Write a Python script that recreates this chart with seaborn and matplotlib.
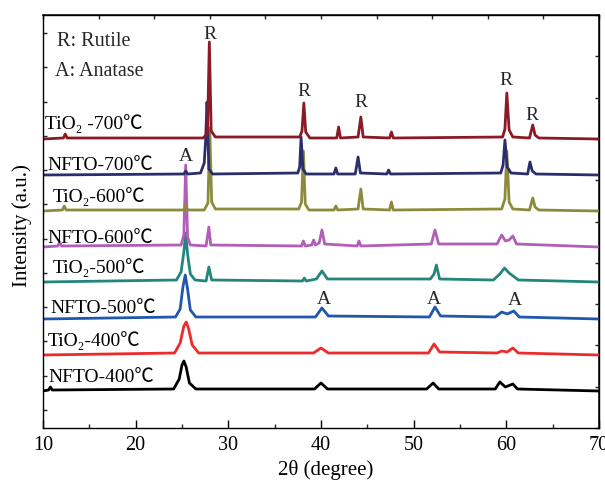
import numpy as np
import pandas as pd
import matplotlib
matplotlib.use("Agg")
import matplotlib.pyplot as plt
import seaborn as sns

# ---------------- data ----------------
samples = ["TiO2-700", "NFTO-700", "TiO2-600", "NFTO-600",
           "TiO2-500", "NFTO-500", "TiO2-400", "NFTO-400"]
labels = ["TiO\u2082 -700\u2103", "NFTO-700\u2103", "TiO\u2082-600\u2103", "NFTO-600\u2103",
          "TiO\u2082-500\u2103", "NFTO-500\u2103", "TiO\u2082-400\u2103", "NFTO-400\u2103"]

tio2_700_x = [10, 12.2, 12.4, 12.6, 27.3, 27.75, 27.95, 28.15, 28.6, 37.7, 37.95, 38.15, 38.35, 38.8,
              41.7, 41.9, 42.1, 44.0, 44.3, 44.55, 47.4, 47.6, 47.8, 59.6, 59.85, 60.05, 60.3, 60.7,
              62.5, 62.85, 63.1, 63.5, 70]
tio2_700_y = [0, 1, 5, 1, 1, 6, 97, 8, 2, 2, 8, 36, 7, 1,
              1, 12, 1, 2, 22, 2, 1, 7, 1, 2, 10, 46, 9, 2,
              1, 14, 4, 1, 0]

nfto_700_x = [10, 25.2, 25.4, 25.6, 27.0, 27.4, 27.55, 27.7, 27.9, 28.3, 37.5, 37.7, 37.85, 38.05, 38.4,
              41.4, 41.6, 41.8, 43.7, 44.0, 44.25, 47.1, 47.3, 47.5, 59.4, 59.65, 59.85, 60.1, 60.5,
              62.3, 62.55, 62.8, 63.2, 70]
nfto_700_y = [0, 1, 4, 1, 2, 12, 35, 73, 6, 1, 2, 8, 38, 6, 1,
              1, 7, 1, 1, 18, 2, 1, 5, 1, 2, 10, 35, 8, 2,
              1, 13, 4, 1, 0]

tio2_600_x = [10, 12.1, 12.3, 12.5, 25.2, 25.4, 25.6, 27.4, 27.8, 28.0, 28.2, 28.6, 37.6, 37.9, 38.1,
              38.3, 38.7, 41.4, 41.6, 41.8, 44.0, 44.3, 44.55, 47.4, 47.6, 47.8, 59.5, 59.85, 60.05,
              60.3, 60.7, 62.5, 62.85, 63.1, 63.5, 70]
tio2_600_y = [0, 1, 5, 1, 1, 6, 1, 1, 8, 83, 9, 2, 2, 9, 60,
              7, 1, 1, 5, 1, 2, 22, 2, 1, 9, 1, 2, 12, 60,
              9, 2, 1, 13, 4, 1, 0]

nfto_600_x = [10, 11.6, 11.8, 12.0, 24.9, 25.2, 25.4, 25.6, 25.9, 27.6, 27.9, 28.1, 37.9, 38.1, 38.3,
              39.0, 39.2, 39.4, 39.8, 40.1, 40.4, 43.9, 44.1, 44.3, 51.9, 52.3, 52.7, 59.0, 59.5,
              59.9, 60.3, 60.7, 61.1, 70]
nfto_600_y = [0, 1, 5, 1, 2, 12, 82, 10, 2, 1, 20, 2, 1, 6, 1,
              2, 7, 2, 4, 17, 3, 1, 6, 1, 3, 17, 3, 3, 12,
              6, 7, 11, 3, 0]

tio2_500_x = [10, 24.4, 24.9, 25.2, 25.4, 25.6, 25.9, 26.4, 27.6, 27.9, 28.2, 38.0, 38.2, 38.4, 39.5,
              40.1, 40.7, 51.8, 52.2, 52.45, 52.8, 58.6, 59.3, 59.8, 60.3, 61.3, 70]
tio2_500_y = [0, 2, 10, 30, 49, 28, 8, 2, 1, 15, 2, 1, 4, 1, 3,
              11, 3, 3, 8, 17, 3, 2, 8, 14, 9, 2, 0]

nfto_500_x = [10, 24.3, 24.8, 25.1, 25.35, 25.6, 25.9, 26.5, 39.4, 40.1, 40.8, 51.7, 52.3, 52.9,
              58.8, 59.5, 60.1, 60.8, 61.4, 70]
nfto_500_y = [0, 2, 10, 32, 44, 30, 9, 2, 2, 11, 3, 2, 12, 3,
              2, 7, 5, 8, 2, 0]

tio2_400_x = [10, 24.2, 24.8, 25.2, 25.45, 25.7, 26.1, 26.8, 39.2, 40.0, 40.8, 51.6, 52.2, 52.8,
              59.0, 59.5, 60.1, 60.7, 61.3, 70]
tio2_400_y = [0, 2, 12, 29, 33, 27, 10, 2, 2, 7, 2, 2, 11, 3,
              2, 4, 3, 7, 2, 0]

nfto_400_x = [10, 10.6, 10.8, 11.0, 24.1, 24.7, 25.0, 25.2, 25.45, 25.8, 26.5, 39.3, 40.0, 40.7,
              51.4, 52.1, 52.7, 58.8, 59.3, 59.9, 60.7, 61.2, 70]
nfto_400_y = [0, 1, 4, 1, 2, 12, 26, 30, 24, 8, 2, 2, 8, 2,
              2, 8, 2, 2, 9, 4, 7, 2, 0]

xs = [tio2_700_x, nfto_700_x, tio2_600_x, nfto_600_x, tio2_500_x, nfto_500_x, tio2_400_x, nfto_400_x]
ys = [tio2_700_y, nfto_700_y, tio2_600_y, nfto_600_y, tio2_500_y, nfto_500_y, tio2_400_y, nfto_400_y]

# peak markers
rutile_x = [28.0, 38.2, 44.3, 60.0, 62.8]
anatase_x = [25.4, 40.3, 52.2, 60.9]

# ---------------- layout / style ----------------
offsets = [289, 253, 217, 181, 146, 109, 73, 37]
colors = ["#8B1A26", "#2C2D6C", "#8C8B3C", "#B25DB8", "#24857B", "#2157AE", "#EE2B2B", "#000000"]
label_pos = [(45, 129), (47, 170), (53, 202), (47, 243), (53, 273), (50, 313), (48, 346), (48, 382)]
rutile_pos = [39, 96, 107, 85, 120]
anatase_pos = [161, 304, 304, 305]

sns.set_theme(style="ticks")
plt.rcParams["font.family"] = ["Liberation Serif", "Noto Sans CJK SC", "DejaVu Serif", "DejaVu Sans"]

fig = plt.figure(figsize=(6.05, 4.80), dpi=100)
ax = fig.add_axes([43 / 605, 1 - 428 / 480, 556 / 605, 413 / 480])

frames = []
for s, x, y, off in zip(samples, xs, ys, offsets):
    frames.append(pd.DataFrame({"two_theta": x, "intensity": np.array(y, float) + off, "sample": s}))
df = pd.concat(frames, ignore_index=True)

sns.lineplot(data=df, x="two_theta", y="intensity", hue="sample", hue_order=samples[::-1],
             palette=dict(zip(samples, colors)), estimator=None, sort=False, legend=False,
             linewidth=2.0, ax=ax)

ax.set_xlim(10, 70)
ax.set_ylim(0, 413)


def px2data(px, py):
    return 10 + (px - 43) / 556 * 60, 428 - py


for lab, (px, py) in zip(labels, label_pos):
    dx, dy = px2data(px, py)
    ax.text(dx, dy, lab, fontsize=14, ha="left", va="baseline", color="black")

for rx, py in zip(rutile_x, rutile_pos):
    ax.text(rx, 428 - py, "R", fontsize=14, ha="center", va="baseline")
for axx, py in zip(anatase_x, anatase_pos):
    ax.text(axx, 428 - py, "A", fontsize=14, ha="center", va="baseline")

dx, dy = px2data(57, 46)
ax.text(dx, dy, "R: Rutile", fontsize=14.5, ha="left", va="baseline")
dx, dy = px2data(55, 76)
ax.text(dx, dy, "A: Anatase", fontsize=14.5, ha="left", va="baseline")

# axes cosmetics
for sp in ax.spines.values():
    sp.set_visible(True)
    sp.set_linewidth(1.0)
    sp.set_color("black")

ax.set_xticks([10, 20, 30, 40, 50, 60, 70])
ax.set_xticks([15, 25, 35, 45, 55, 65], minor=True)
ax.set_yticks(np.linspace(18, 395, 12))
ax.set_yticklabels([])
ax.tick_params(axis="x", which="major", direction="in", length=6, width=1, labelsize=14.5, pad=6, colors="black")
ax.tick_params(axis="x", which="minor", direction="in", length=3, width=1, bottom=True)
ax.tick_params(axis="y", which="major", direction="in", length=3, width=1, left=True)

top = ax.secondary_xaxis("top")
top.set_xticks(np.arange(10, 71, 6))
top.set_xticklabels([])
top.tick_params(direction="in", length=3, width=1)
right = ax.secondary_yaxis("right")
right.set_yticks(np.linspace(0, 413, 11))
right.set_yticklabels([])
right.tick_params(direction="in", length=3, width=1)

ax.set_xlabel("2\u03b8 (degree)", fontsize=15, color="black")
ax.xaxis.set_label_coords(0.509, -0.078)
ax.set_ylabel("Intensity (a.u.)", fontsize=15, color="black")
ax.yaxis.set_label_coords(-0.02, 0.49)
ax.grid(False)

fig.savefig("out.png", dpi=100)
